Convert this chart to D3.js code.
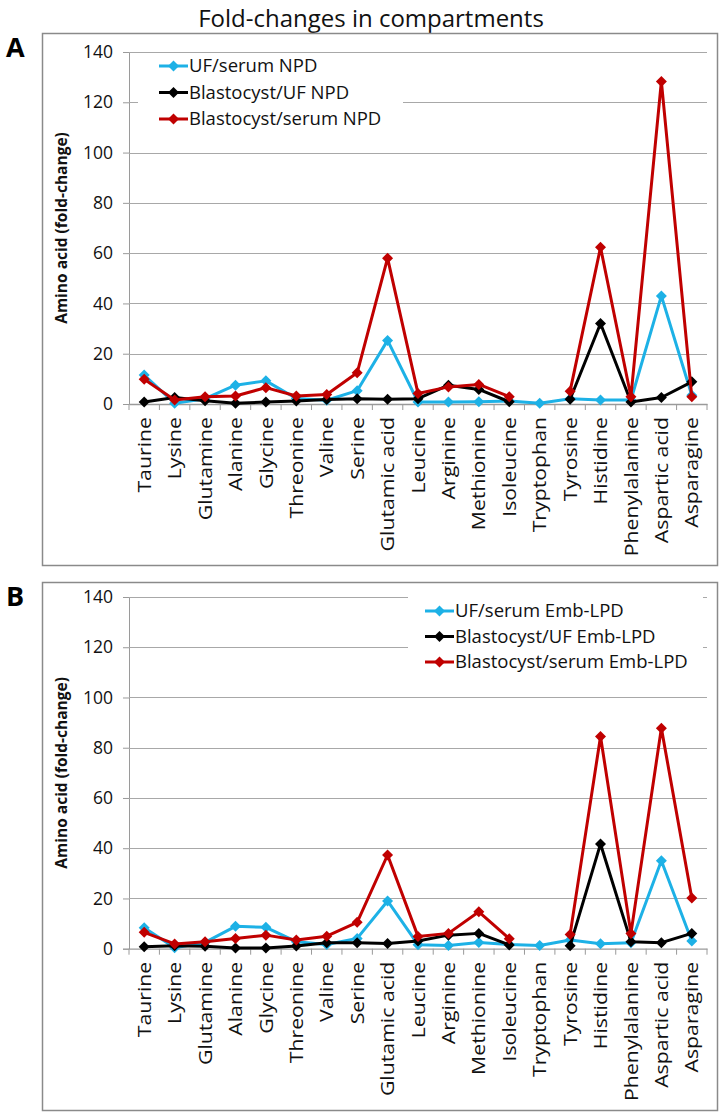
<!DOCTYPE html>
<html>
<head>
<meta charset="utf-8">
<script src="https://cdn.jsdelivr.net/npm/d3@7"></script>
<style>
  html, body { margin: 0; padding: 0; background: #fff; }
  svg { display: block; }
  text { font-family: "Open Sans", "DejaVu Sans", sans-serif; }
</style>
</head>
<body>
<svg id="chart" width="721" height="1116"></svg>
<script>
// ---------------- data ----------------
const categories = ["Taurine","Lysine","Glutamine","Alanine","Glycine","Threonine","Valine","Serine","Glutamic acid","Leucine","Arginine","Methionine","Isoleucine","Tryptophan","Tyrosine","Histidine","Phenylalanine","Aspartic acid","Asparagine"];
const yTicks = [0, 20, 40, 60, 80, 100, 120, 140];

// Panel A (NPD)
const ufSerumNPD     = [11.5, 0.3, 2.1, 7.5, 9.2, 2.2, 1.5, 5.3, 25.3, 0.8, 0.8, 0.9, 1.2, 0.3, 2.1, 1.6, 1.6, 43.0, 3.5];
const blastUfNPD     = [0.8, 2.6, 1.3, 0.3, 0.8, 1.2, 1.8, 2.1, 1.9, 2.1, 7.5, 5.8, 0.9, null, 1.9, 32.0, 0.8, 2.6, 8.8];
const blastSerumNPD  = [9.8, 1.6, 2.9, 3.2, 6.5, 3.2, 3.8, 12.4, 58.0, 4.2, 6.8, 7.8, 2.9, null, 5.1, 62.3, 2.9, 128.3, 2.9];

// Panel B (Emb-LPD)
const ufSerumLPD     = [8.3, 0.4, 2.5, 8.9, 8.5, 2.8, 1.7, 4.1, 19.0, 1.6, 1.3, 2.5, 1.7, 1.3, 3.5, 2.0, 2.4, 35.0, 3.1];
const blastUfLPD     = [0.8, 1.2, 1.0, 0.3, 0.3, 1.1, 2.4, 2.4, 2.1, 3.1, 5.4, 6.1, 1.5, null, 1.2, 41.7, 2.8, 2.4, 6.1];
const blastSerumLPD  = [6.5, 1.9, 2.8, 4.1, 5.4, 3.5, 5.0, 10.5, 37.3, 4.9, 6.1, 14.7, 4.0, null, 5.7, 84.5, 6.1, 87.8, 20.2];

const seriesNamesA = ["UF/serum NPD", "Blastocyst/UF NPD", "Blastocyst/serum NPD"];
const seriesNamesB = ["UF/serum Emb-LPD", "Blastocyst/UF Emb-LPD", "Blastocyst/serum Emb-LPD"];
const seriesColors = ["#1db1e6", "#000000", "#c00000"];

// ---------------- drawing ----------------
const svg = d3.select("#chart");

svg.append("text")
  .attr("x", 371).attr("y", 27)
  .attr("text-anchor", "middle")
  .attr("font-size", 24)
  .attr("fill", "#111")
  .text("Fold-changes in compartments");

const diamond = "M0,-5.5L5.5,0L0,5.5L-5.5,0Z";

function drawPanel(opts) {
  const { letter, frameTop, frameBottom, plotTop, plotBottom, series, names, legend } = opts;
  const g = svg.append("g");
  const left = 129, right = 707;

  // frame
  g.append("rect")
    .attr("x", 42.5).attr("y", frameTop + 0.5)
    .attr("width", 675).attr("height", frameBottom - frameTop)
    .attr("fill", "none").attr("stroke", "#8a8a8a").attr("stroke-width", 1.5);

  // panel letter
  svg.append("text")
    .attr("x", 6).attr("y", frameTop + 24)
    .attr("font-family", "Liberation Sans, Arial, sans-serif")
    .attr("font-weight", "bold").attr("font-size", 27)
    .text(letter);

  const x = d3.scaleBand().domain(categories).range([left, right]);
  const y = d3.scaleLinear().domain([0, 140]).range([plotBottom, plotTop]);

  // gridlines + y axis
  const yAxis = d3.axisLeft(y).tickValues(yTicks).tickSize(6).tickPadding(10);
  const ya = g.append("g").attr("transform", `translate(${left},0)`).call(yAxis);
  ya.select(".domain").attr("stroke", "#9a9a9a");
  ya.selectAll(".tick line").attr("stroke", "#9a9a9a");
  ya.selectAll(".tick text").attr("font-size", 17.5).attr("fill", "#111")
    .attr("font-family", "Open Sans, sans-serif");
  g.append("g").selectAll("line").data(yTicks.filter(d => d > 0)).join("line")
    .attr("x1", left).attr("x2", right)
    .attr("y1", d => Math.round(y(d)) + 0.5).attr("y2", d => Math.round(y(d)) + 0.5)
    .attr("stroke", "#a8a8a8").attr("stroke-width", 1.2);

  // x axis
  const xAxis = d3.axisBottom(x).tickSize(0).tickPadding(0);
  const xa = g.append("g").attr("transform", `translate(0,${plotBottom})`).call(xAxis);
  xa.select(".domain").attr("stroke", "#9a9a9a").attr("stroke-width", 1.3);
  xa.selectAll(".tick text")
    .attr("font-size", 19).attr("fill", "#111")
    .attr("font-family", "Open Sans, sans-serif")
    .attr("text-anchor", "end")
    .attr("dy", "0.35em")
    .attr("transform", "translate(0,13) rotate(-90) scale(1.12,1)")
    .attr("x", 0).attr("y", 0);
  // boundary tick marks
  const bounds = categories.map(c => x(c)).concat([right]);
  g.append("g").selectAll("line").data(bounds).join("line")
    .attr("x1", d => d).attr("x2", d => d)
    .attr("y1", plotBottom).attr("y2", plotBottom + 6)
    .attr("stroke", "#9a9a9a");

  // y axis title
  g.append("text")
    .attr("transform", `translate(67,${(plotTop + plotBottom) / 2}) rotate(-90)`)
    .attr("text-anchor", "middle")
    .attr("font-weight", "bold").attr("font-size", 15.5)
    .attr("fill", "#111")
    .text("Amino acid (fold-change)");

  // legend background
  g.append("rect")
    .attr("x", legend.bx).attr("y", legend.by)
    .attr("width", legend.bw).attr("height", legend.bh)
    .attr("fill", "#fff");

  // series
  const line = d3.line()
    .defined(d => d.v !== null)
    .x(d => x(d.c) + x.bandwidth() / 2)
    .y(d => y(d.v));

  series.forEach((vals, i) => {
    const pts = categories.map((c, j) => ({ c, v: vals[j] }));
    g.append("path")
      .datum(pts)
      .attr("d", line)
      .attr("fill", "none")
      .attr("stroke", seriesColors[i])
      .attr("stroke-width", 3)
      .attr("stroke-linejoin", "round");
    g.append("g").selectAll("path").data(pts.filter(d => d.v !== null)).join("path")
      .attr("d", diamond)
      .attr("transform", d => `translate(${x(d.c) + x.bandwidth() / 2},${y(d.v)})`)
      .attr("fill", seriesColors[i]);
  });

  // legend entries
  names.forEach((n, i) => {
    const ly = legend.y0 + i * legend.dy;
    g.append("line")
      .attr("x1", legend.x).attr("x2", legend.x + 29)
      .attr("y1", ly).attr("y2", ly)
      .attr("stroke", seriesColors[i]).attr("stroke-width", 3);
    g.append("path").attr("d", diamond)
      .attr("transform", `translate(${legend.x + 14.5},${ly})`)
      .attr("fill", seriesColors[i]);
    g.append("text")
      .attr("x", legend.x + 30).attr("y", ly)
      .attr("dy", "0.35em")
      .attr("font-size", 18.5).attr("fill", "#111")
      .text(n);
  });
}

drawPanel({
  letter: "A", frameTop: 33, frameBottom: 565, plotTop: 52, plotBottom: 404,
  series: [ufSerumNPD, blastUfNPD, blastSerumNPD], names: seriesNamesA,
  legend: { bx: 138, by: 56, bw: 265, bh: 78, x: 159, y0: 66, dy: 26.5 }
});

drawPanel({
  letter: "B", frameTop: 582, frameBottom: 1110, plotTop: 597, plotBottom: 948.7,
  series: [ufSerumLPD, blastUfLPD, blastSerumLPD], names: seriesNamesB,
  legend: { bx: 408, by: 590, bw: 295, bh: 86, x: 425, y0: 611, dy: 25.5 }
});
</script>
</body>
</html>
